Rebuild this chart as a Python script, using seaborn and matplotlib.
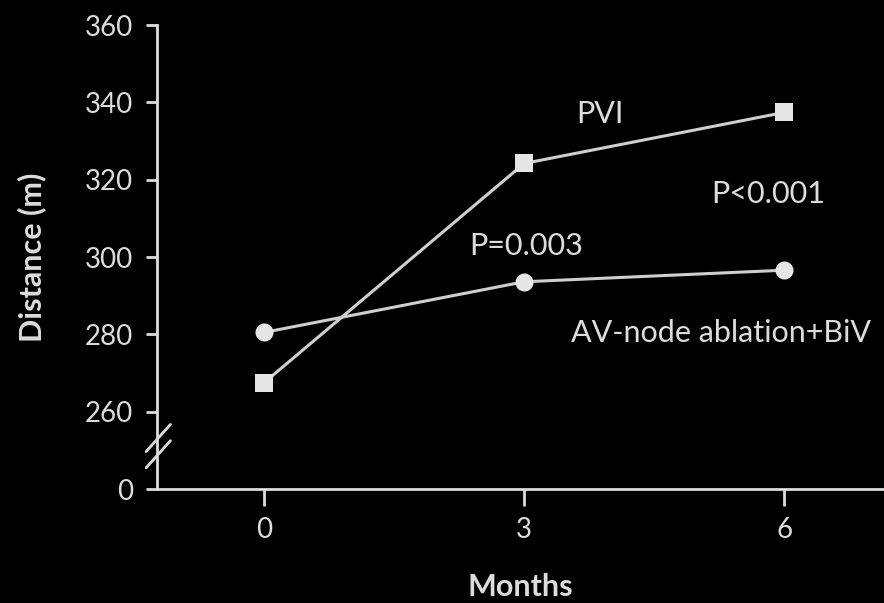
import matplotlib
matplotlib.use("Agg")
import matplotlib.pyplot as plt
import seaborn as sns
import pandas as pd

# Six-minute walk distance by follow-up month
months = [0, 3, 6]
pvi_distance = [267.5, 324.2, 337.4]
avnode_distance = [280.5, 293.6, 296.6]
groups = ["PVI", "AV-node ablation+BiV"]
y_ticks = [240, 260, 280, 300, 320, 340, 360]
y_tick_labels = ["0", "260", "280", "300", "320", "340", "360"]
x_ticks = [0, 3, 6]

df = pd.DataFrame({
    "Months": months * 2,
    "Distance": pvi_distance + avnode_distance,
    "Group": [groups[0]] * 3 + [groups[1]] * 3,
})

sns.set_theme(style="ticks")
plt.rcParams["font.family"] = ["Lato", "DejaVu Sans"]

fg = "#dcdcdc"
fig = plt.figure(figsize=(8.84, 6.03), dpi=100, facecolor="black")
ax = fig.add_axes([0.1776, 0.189, 0.8224, 0.7695])
ax.set_facecolor("black")

sns.lineplot(
    data=df, x="Months", y="Distance", hue="Group", style="Group",
    markers={groups[0]: "s", groups[1]: "o"}, dashes=False,
    palette={groups[0]: "#cfcfcf", groups[1]: "#cfcfcf"},
    markersize=13, markeredgewidth=0, linewidth=2.2, legend=False, ax=ax,
)
for line in ax.lines:
    line.set_markerfacecolor("#e6e6e6")
    line.set_clip_on(False)

ax.set_xlim(-1.235, 7.15)
ax.set_ylim(240, 360)
ax.set_xticks(x_ticks)
ax.set_yticks(y_ticks)
ax.set_yticklabels(y_tick_labels)

for side in ["top", "right"]:
    ax.spines[side].set_visible(False)
for side in ["left", "bottom"]:
    ax.spines[side].set_color(fg)
    ax.spines[side].set_linewidth(2)

ax.tick_params(axis="y", colors=fg, labelsize=20, length=8, width=2, pad=9)
ax.tick_params(axis="x", colors=fg, labelsize=20, length=12, width=2, pad=8)

ax.set_xlabel("Months", color=fg, fontsize=22, fontweight="bold", labelpad=22)
ax.set_ylabel("Distance (m)", color=fg, fontsize=22, fontweight="bold", labelpad=28)

# Axis break marks between 0 and 260
for dy in (0.0, 4.2):
    ax.plot([-1.36, -1.08], [245.5 + dy, 252.5 + dy], color=fg, lw=2,
            clip_on=False, transform=ax.transData)

text_kw = dict(color=fg, fontsize=22, ha="center", va="center")
ax.text(3.87, 337.0, "PVI", **text_kw)
ax.text(5.82, 316.3, "P<0.001", **text_kw)
ax.text(3.02, 302.8, "P=0.003", **text_kw)
ax.text(5.27, 280.3, "AV-node ablation+BiV", **text_kw)

fig.savefig("out.png", dpi=100, facecolor="black")
